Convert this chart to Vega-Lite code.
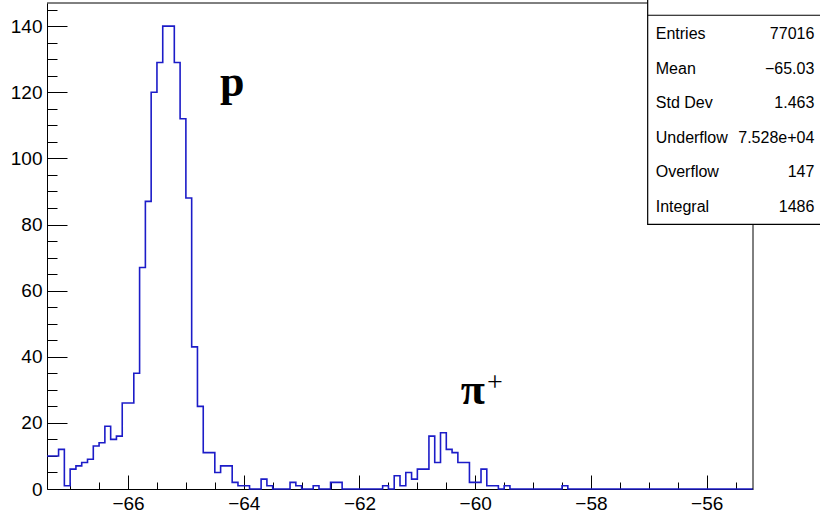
{
  "$schema": "https://vega.github.io/schema/vega-lite/v6.json",
  "width": 706,
  "height": 486,
  "autosize": {"type": "none"},
  "padding": {"left": 47, "top": 3, "right": 67, "bottom": 23},
  "background": "white",
  "config": {
    "view": {"stroke": null},
    "axis": {"grid": false, "title": null, "labelFont": "Liberation Sans", "labelFontSize": 19, "labelColor": "#000", "tickColor": "#000", "domainColor": "#000", "tickWidth": 1, "domainWidth": 1, "zindex": 1}
  },
  "datasets": {
    "hist": [
      {"x": -67.4, "n": 10}, {"x": -67.3, "n": 10}, {"x": -67.2, "n": 12}, {"x": -67.1, "n": 1}, {"x": -67.0, "n": 6},
      {"x": -66.9, "n": 7}, {"x": -66.8, "n": 8}, {"x": -66.7, "n": 9}, {"x": -66.6, "n": 13}, {"x": -66.5, "n": 14},
      {"x": -66.4, "n": 19}, {"x": -66.3, "n": 15}, {"x": -66.2, "n": 16}, {"x": -66.1, "n": 26}, {"x": -66.0, "n": 26},
      {"x": -65.9, "n": 35}, {"x": -65.8, "n": 67}, {"x": -65.7, "n": 87}, {"x": -65.6, "n": 120}, {"x": -65.5, "n": 129},
      {"x": -65.4, "n": 140}, {"x": -65.3, "n": 140}, {"x": -65.2, "n": 129}, {"x": -65.1, "n": 112}, {"x": -65.0, "n": 88},
      {"x": -64.9, "n": 43}, {"x": -64.8, "n": 25}, {"x": -64.7, "n": 11}, {"x": -64.6, "n": 11}, {"x": -64.5, "n": 5},
      {"x": -64.4, "n": 7}, {"x": -64.3, "n": 7}, {"x": -64.2, "n": 2}, {"x": -64.1, "n": 1}, {"x": -64.0, "n": 1},
      {"x": -63.9, "n": 0}, {"x": -63.8, "n": 0}, {"x": -63.7, "n": 3}, {"x": -63.6, "n": 1}, {"x": -63.5, "n": 0},
      {"x": -63.4, "n": 0}, {"x": -63.3, "n": 0}, {"x": -63.2, "n": 2}, {"x": -63.1, "n": 1}, {"x": -63.0, "n": 0},
      {"x": -62.9, "n": 0}, {"x": -62.8, "n": 1}, {"x": -62.7, "n": 0}, {"x": -62.6, "n": 0}, {"x": -62.5, "n": 2},
      {"x": -62.4, "n": 2}, {"x": -62.3, "n": 0}, {"x": -62.2, "n": 0}, {"x": -62.1, "n": 0}, {"x": -62.0, "n": 0},
      {"x": -61.9, "n": 0}, {"x": -61.8, "n": 0}, {"x": -61.7, "n": 0}, {"x": -61.6, "n": 1}, {"x": -61.5, "n": 0},
      {"x": -61.4, "n": 4}, {"x": -61.3, "n": 1}, {"x": -61.2, "n": 5}, {"x": -61.1, "n": 3}, {"x": -61.0, "n": 6},
      {"x": -60.9, "n": 6}, {"x": -60.8, "n": 16}, {"x": -60.7, "n": 8}, {"x": -60.6, "n": 17}, {"x": -60.5, "n": 12},
      {"x": -60.4, "n": 11}, {"x": -60.3, "n": 8}, {"x": -60.2, "n": 8}, {"x": -60.1, "n": 2}, {"x": -60.0, "n": 2},
      {"x": -59.9, "n": 6}, {"x": -59.8, "n": 1}, {"x": -59.7, "n": 1}, {"x": -59.6, "n": 0}, {"x": -59.5, "n": 1},
      {"x": -59.4, "n": 0}, {"x": -59.3, "n": 0}, {"x": -59.2, "n": 0}, {"x": -59.1, "n": 0}, {"x": -59.0, "n": 0},
      {"x": -58.9, "n": 0}, {"x": -58.8, "n": 0}, {"x": -58.7, "n": 0}, {"x": -58.6, "n": 0}, {"x": -58.5, "n": 1},
      {"x": -58.4, "n": 0}, {"x": -58.3, "n": 0}, {"x": -58.2, "n": 0}, {"x": -58.1, "n": 0}, {"x": -58.0, "n": 0},
      {"x": -57.9, "n": 0}, {"x": -57.8, "n": 0}, {"x": -57.7, "n": 0}, {"x": -57.6, "n": 0}, {"x": -57.5, "n": 0},
      {"x": -57.4, "n": 0}, {"x": -57.3, "n": 0}, {"x": -57.2, "n": 0}, {"x": -57.1, "n": 0}, {"x": -57.0, "n": 0},
      {"x": -56.9, "n": 0}, {"x": -56.8, "n": 0}, {"x": -56.7, "n": 0}, {"x": -56.6, "n": 0}, {"x": -56.5, "n": 0},
      {"x": -56.4, "n": 0}, {"x": -56.3, "n": 0}, {"x": -56.2, "n": 0}, {"x": -56.1, "n": 0}, {"x": -56.0, "n": 0},
      {"x": -55.9, "n": 0}, {"x": -55.8, "n": 0}, {"x": -55.7, "n": 0}, {"x": -55.6, "n": 0}, {"x": -55.5, "n": 0},
      {"x": -55.4, "n": 0}, {"x": -55.3, "n": 0}, {"x": -55.2, "n": 0}
    ],
    "stats": [
      {"stat": "Entries", "value": "77016"},
      {"stat": "Mean", "value": "−65.03"},
      {"stat": "Std Dev", "value": "1.463"},
      {"stat": "Underflow", "value": "7.528e+04"},
      {"stat": "Overflow", "value": "147"},
      {"stat": "Integral", "value": "1486"}
    ],
    "one": [{"k": 1}]
  },
  "resolve": {"scale": {"y": "independent"}},
  "layer": [
    {
      "resolve": {"axis": {"x": "independent", "y": "independent"}},
      "layer": [
        {
          "data": {"name": "hist"},
          "mark": {"type": "point", "opacity": 0},
          "encoding": {
            "x": {"field": "x", "type": "quantitative", "scale": {"domain": [-67.4, -55.2], "nice": false, "zero": false},
              "axis": {"orient": "bottom", "values": [-67, -66.5, -65.5, -65, -64.5, -63.5, -63, -62.5, -61.5, -61, -60.5, -59.5, -59, -58.5, -57.5, -57, -56.5, -55.5], "labels": false, "domain": false, "tickSize": -7}},
            "y": {"field": "n", "type": "quantitative", "scale": {"domain": [0, 147], "nice": false, "zero": false},
              "axis": {"orient": "left", "values": [5, 10, 15, 25, 30, 35, 45, 50, 55, 65, 70, 75, 85, 90, 95, 105, 110, 115, 125, 130, 135, 145], "labels": false, "domain": false, "tickSize": -10}}
          }
        },
        {
          "data": {"name": "hist"},
          "mark": {"type": "line", "interpolate": "step-after", "color": "#1c1cc8", "strokeWidth": 1.6},
          "encoding": {
            "x": {"field": "x", "type": "quantitative", "scale": {"domain": [-67.4, -55.2], "nice": false, "zero": false},
              "axis": {"orient": "bottom", "values": [-66, -64, -62, -60, -58, -56], "tickSize": -14, "labelPadding": 19, "domain": true}},
            "y": {"field": "n", "type": "quantitative", "scale": {"domain": [0, 147], "nice": false, "zero": false},
              "axis": {"orient": "left", "values": [0, 20, 40, 60, 80, 100, 120, 140], "tickSize": -20, "labelPadding": 25, "domain": true}}
          }
        },
        {
          "data": {"name": "one"},
          "mark": {"type": "rule", "color": "#000", "strokeWidth": 1},
          "encoding": {
            "x": {"datum": -67.4, "type": "quantitative", "scale": {"domain": [-67.4, -55.2], "nice": false, "zero": false}, "axis": null},
            "x2": {"datum": -55.2},
            "y": {"datum": 147, "type": "quantitative", "scale": {"domain": [0, 147], "nice": false, "zero": false}, "axis": null}
          }
        },
        {
          "data": {"name": "one"},
          "mark": {"type": "rule", "color": "#000", "strokeWidth": 1},
          "encoding": {
            "x": {"datum": -55.2, "type": "quantitative", "scale": {"domain": [-67.4, -55.2], "nice": false, "zero": false}, "axis": null},
            "y": {"datum": 0, "type": "quantitative", "scale": {"domain": [0, 147], "nice": false, "zero": false}, "axis": null},
            "y2": {"datum": 147}
          }
        },
        {
          "data": {"name": "one"},
          "mark": {"type": "rect", "fill": "white", "stroke": "#000", "strokeWidth": 1.2, "clip": false},
          "encoding": {
            "x": {"datum": -57.02, "type": "quantitative", "scale": {"domain": [-67.4, -55.2], "nice": false, "zero": false}, "axis": null},
            "x2": {"datum": -53.9},
            "y": {"datum": 80.05, "type": "quantitative", "scale": {"domain": [0, 147], "nice": false, "zero": false}, "axis": null},
            "y2": {"datum": 152}
          }
        },
        {
          "data": {"name": "one"},
          "mark": {"type": "rule", "color": "#000", "strokeWidth": 1.2, "clip": false},
          "encoding": {
            "x": {"datum": -57.02, "type": "quantitative", "scale": {"domain": [-67.4, -55.2], "nice": false, "zero": false}, "axis": null},
            "x2": {"datum": -53.9},
            "y": {"datum": 143.3, "type": "quantitative", "scale": {"domain": [0, 147], "nice": false, "zero": false}, "axis": null}
          }
        },
        {
          "data": {"name": "one"},
          "mark": {"type": "text", "text": "p", "font": "Liberation Serif", "fontWeight": "bold", "fontSize": 44, "align": "center", "baseline": "alphabetic", "color": "#000"},
          "encoding": {
            "x": {"datum": -64.2, "type": "quantitative", "scale": {"domain": [-67.4, -55.2], "nice": false, "zero": false}, "axis": null},
            "y": {"datum": 118.8, "type": "quantitative", "scale": {"domain": [0, 147], "nice": false, "zero": false}, "axis": null}
          }
        },
        {
          "data": {"name": "one"},
          "mark": {"type": "text", "text": "π", "font": "Liberation Serif", "fontWeight": "bold", "fontSize": 44, "align": "center", "baseline": "alphabetic", "color": "#000"},
          "encoding": {
            "x": {"datum": -60.04, "type": "quantitative", "scale": {"domain": [-67.4, -55.2], "nice": false, "zero": false}, "axis": null},
            "y": {"datum": 25.7, "type": "quantitative", "scale": {"domain": [0, 147], "nice": false, "zero": false}, "axis": null}
          }
        },
        {
          "data": {"name": "one"},
          "mark": {"type": "text", "text": "+", "font": "Liberation Serif", "fontSize": 28, "align": "center", "baseline": "alphabetic", "color": "#000"},
          "encoding": {
            "x": {"datum": -59.66, "type": "quantitative", "scale": {"domain": [-67.4, -55.2], "nice": false, "zero": false}, "axis": null},
            "y": {"datum": 29.5, "type": "quantitative", "scale": {"domain": [0, 147], "nice": false, "zero": false}, "axis": null}
          }
        }
      ]
    },
    {
      "data": {"name": "stats"},
      "layer": [
        {
          "mark": {"type": "text", "font": "Liberation Sans", "fontSize": 16, "align": "left", "baseline": "middle", "color": "#000", "clip": false},
          "encoding": {
            "x": {"datum": -56.88, "type": "quantitative", "scale": {"domain": [-67.4, -55.2], "nice": false, "zero": false}, "axis": null},
            "y": {"field": "stat", "type": "ordinal", "sort": null, "scale": {"type": "point", "range": [31, 204], "padding": 0}, "axis": null},
            "text": {"field": "stat"}
          }
        },
        {
          "mark": {"type": "text", "font": "Liberation Sans", "fontSize": 16, "align": "right", "baseline": "middle", "color": "#000", "clip": false},
          "encoding": {
            "x": {"datum": -54.14, "type": "quantitative", "scale": {"domain": [-67.4, -55.2], "nice": false, "zero": false}, "axis": null},
            "y": {"field": "stat", "type": "ordinal", "sort": null, "scale": {"type": "point", "range": [31, 204], "padding": 0}, "axis": null},
            "text": {"field": "value"}
          }
        }
      ]
    }
  ]
}
